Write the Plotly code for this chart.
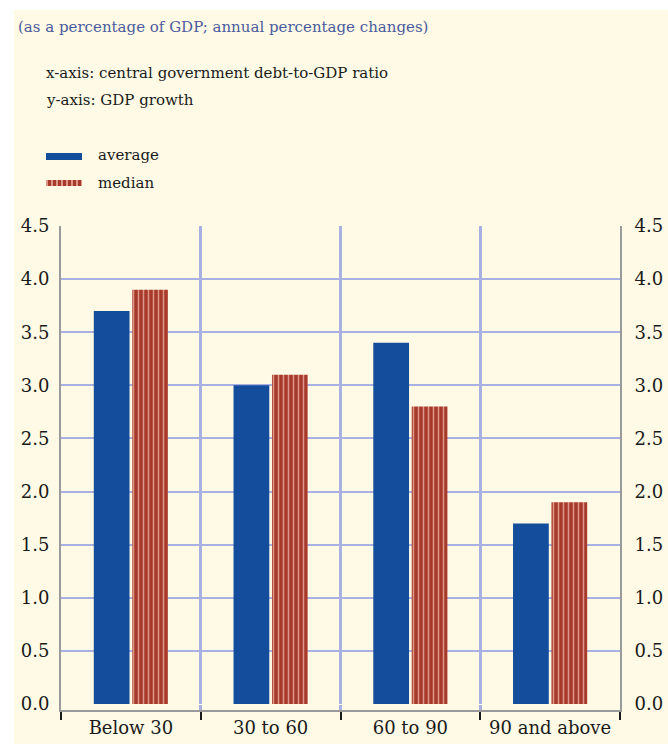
import plotly.graph_objects as go

categories = ["Below 30", "30 to 60", "60 to 90", "90 and above"]
average = [3.7, 3.0, 3.4, 1.7]
median = [3.9, 3.1, 2.8, 1.9]
y_ticks = [0.0, 0.5, 1.0, 1.5, 2.0, 2.5, 3.0, 3.5, 4.0, 4.5]

PAGE_W, PAGE_H = 668, 744
OX, OY = 14, 10              # white page border (left, top)
W, H = PAGE_W - OX, PAGE_H - OY
L, R, T, B = 61, 620, 226, 710   # plot area in page coordinates
PW, PH = R - L, B - T

def px(x):
    return (x - L) / PW

def py(y):
    return (B - y) / PH

CREAM = "#fefae5"
GRID = "#a9b0e2"
BLUE = "#134d9b"
RED_D = "#a83a2b"
RED_L = "#dc9888"
FONT = "DejaVu Serif"
TXT = "#1a1a1a"

fig = go.Figure()
fig.add_trace(go.Bar(x=categories, y=average, name="average",
                     marker=dict(color=BLUE, line=dict(width=0))))
fig.add_trace(go.Bar(x=categories, y=median, name="median",
                     marker=dict(color=RED_D, line=dict(width=0),
                                 pattern=dict(shape="|", bgcolor=RED_D, fgcolor=RED_L,
                                              size=5, solidity=0.3, fillmode="replace"))))
# invisible trace to activate right axis
fig.add_trace(go.Scatter(x=categories, y=average, yaxis="y2", mode="markers",
                         marker=dict(opacity=0), hoverinfo="skip", showlegend=False))

yr = [-6 / ((704 - 226) / 4.5), 4.5]
tickfont = dict(family=FONT, size=18, color=TXT)

fig.update_layout(
    width=W, height=H,
    margin=dict(l=L - OX, r=PAGE_W - R, t=T - OY, b=PAGE_H - B, pad=0),
    paper_bgcolor=CREAM, plot_bgcolor=CREAM,
    showlegend=False,
    barmode="group", bargap=0.45, bargroupgap=0.07,
    font=dict(family=FONT, size=15, color=TXT),
    xaxis=dict(showline=True, linecolor="#9a9a9a", linewidth=2,
               tickson="boundaries", ticks="outside", ticklen=8, tickwidth=2,
               tickcolor=TXT, showgrid=True, gridcolor=GRID, gridwidth=3,
               tickangle=0, automargin=False, tickfont=tickfont),
    yaxis=dict(range=yr, tickvals=y_ticks, tickformat=".1f",
               showline=True, linecolor="#9a9a9a", linewidth=2,
               showgrid=True, gridcolor=GRID, gridwidth=2,
               zeroline=True, zerolinecolor=CREAM, zerolinewidth=1,
               ticks="", ticklabelstandoff=6, automargin=False, tickfont=tickfont),
    yaxis2=dict(range=yr, tickvals=y_ticks, tickformat=".1f", overlaying="y",
                side="right", showline=True, linecolor="#9a9a9a", linewidth=2,
                showgrid=False, zeroline=False, ticks="", ticklabelstandoff=9,
                automargin=False, tickfont=tickfont),
)

shapes = [
    dict(type="rect", xref="paper", yref="paper", x0=px(46), x1=px(82), y0=py(160), y1=py(153),
         fillcolor=BLUE, line=dict(width=0)),
    dict(type="rect", xref="paper", yref="paper", x0=px(46), x1=px(82), y0=py(186), y1=py(180),
         fillcolor=RED_D, line=dict(width=0)),
    dict(type="line", xref="paper", yref="paper", x0=px(46), x1=px(82), y0=py(183), y1=py(183),
         line=dict(color=RED_L, width=6, dash="2px,3px")),
]
fig.update_layout(shapes=shapes)

def ann(text, x, y, color=TXT, size=15):
    fig.add_annotation(text=text, xref="paper", yref="paper", x=px(x), y=py(y),
                       xanchor="left", yanchor="middle", showarrow=False,
                       font=dict(family=FONT, size=size, color=color))

ann("(as a percentage of GDP; annual percentage changes)", 16, 27, "#4b5b9e")
ann("x-axis: central government debt-to-GDP ratio", 44, 73)
ann("y-axis: GDP growth", 44, 100)
ann("average", 96, 155)
ann("median", 96, 183)

fig.write_html(
    "out.html",
    config={"displayModeBar": False},
    post_script=("document.body.style.margin='0';"
                 "document.body.style.padding='%dpx 0 0 %dpx';"
                 "document.body.style.background='white';"
                 "document.body.style.overflow='hidden';") % (OY, OX),
)
